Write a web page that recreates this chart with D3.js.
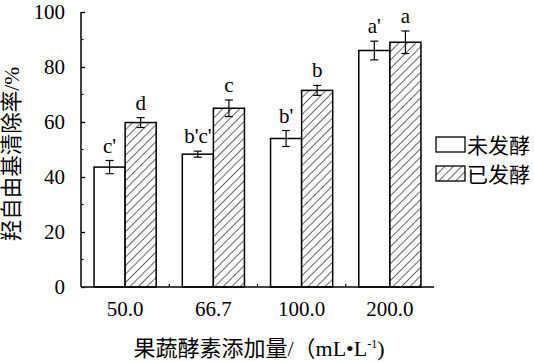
<!DOCTYPE html>
<html lang="zh">
<head>
<meta charset="UTF-8">
<title>羟自由基清除率</title>
<script src="https://d3js.org/d3.v7.min.js"></script>
<style>
    html, body { margin: 0; background: #fff; }
</style>
</head>
<body>
<div id="vis"></div>
<script>
    // data
    var categories = ["50.0", "66.7", "100.0", "200.0"];
    var series = ["未发酵", "已发酵"];
    var unfermented = [43.6, 48.3, 54.0, 86.0];
    var unfermentedErr = [2.4, 1.1, 2.9, 3.4];
    var fermented = [59.8, 65.0, 71.5, 89.0];
    var fermentedErr = [1.8, 3.0, 1.8, 4.1];
    var unfermentedLabels = ["c'", "b'c'", "b'", "a'"];
    var fermentedLabels = ["d", "c", "b", "a"];
    var yTicks = [0, 20, 40, 60, 80, 100];

    var W = 534, H = 362;
    var plotLeft = 81, plotRight = 434, plotTop = 12, plotBottom = 287;
    var SERIF = "'Liberation Serif', 'Noto Sans CJK SC'";

    var svg = d3.select("#vis").append("svg")
        .attr("width", W).attr("height", H);

    var defs = svg.append("defs");
    var pat = defs.append("pattern")
        .attr("id", "hatch")
        .attr("patternUnits", "userSpaceOnUse")
        .attr("width", 6).attr("height", 6)
        .attr("patternTransform", "rotate(45)");
    pat.append("rect").attr("width", 6).attr("height", 6).attr("fill", "#fff");
    pat.append("line")
        .attr("x1", 0).attr("y1", 0).attr("x2", 0).attr("y2", 6)
        .attr("stroke", "#000").attr("stroke-width", 1.2);

    var x = d3.scaleBand().domain(categories).range([plotLeft, plotRight]).paddingInner(0).paddingOuter(0);
    var xs = d3.scaleBand().domain(series).range([0, x.bandwidth()]).paddingInner(0).paddingOuter(0.42);
    var y = d3.scaleLinear().domain([0, 100]).range([plotBottom, plotTop]);

    var rows = categories.map(function(c, i) {
        return [
            {cat: c, s: series[0], v: unfermented[i], e: unfermentedErr[i], lab: unfermentedLabels[i]},
            {cat: c, s: series[1], v: fermented[i], e: fermentedErr[i], lab: fermentedLabels[i]}
        ];
    });
    var flat = [].concat.apply([], rows);

    function fillFor(s) { return s === series[0] ? "#fff" : "url(#hatch)"; }
    function cx(d) { return x(d.cat) + xs(d.s) + xs.bandwidth() / 2; }

    // bars
    svg.selectAll(".bar").data(flat).enter().append("rect")
        .attr("class", "bar")
        .attr("x", function(d) { return x(d.cat) + xs(d.s); })
        .attr("width", xs.bandwidth())
        .attr("y", function(d) { return y(d.v); })
        .attr("height", function(d) { return y(0) - y(d.v); })
        .attr("fill", function(d) { return fillFor(d.s); })
        .attr("stroke", "#000").attr("stroke-width", 1.5);

    // error bars
    var eb = svg.selectAll(".err").data(flat).enter().append("g")
        .attr("class", "err")
        .attr("stroke", "#000").attr("stroke-width", 1.2);
    eb.append("line")
        .attr("x1", cx).attr("x2", cx)
        .attr("y1", function(d) { return y(d.v + d.e); })
        .attr("y2", function(d) { return y(d.v - d.e); });
    [1, -1].forEach(function(sign) {
        eb.append("line")
            .attr("x1", function(d) { return cx(d) - 4; })
            .attr("x2", function(d) { return cx(d) + 4; })
            .attr("y1", function(d) { return y(d.v + sign * d.e); })
            .attr("y2", function(d) { return y(d.v + sign * d.e); });
    });

    // significance letters
    svg.selectAll(".lab").data(flat).enter().append("text")
        .attr("class", "lab")
        .attr("x", cx)
        .attr("y", function(d) { return y(d.v + d.e) - 8; })
        .attr("text-anchor", "middle")
        .style("font-family", SERIF)
        .style("font-size", "21px")
        .text(function(d) { return d.lab; });

    // y axis
    var yAxis = d3.axisLeft(y).tickValues(yTicks).tickSize(-4).tickPadding(16);
    var gy = svg.append("g").attr("transform", "translate(" + plotLeft + ",0)").call(yAxis);
    gy.select(".domain").attr("d", "M0," + y(0) + "V" + y(100)).attr("stroke-width", 1.5);
    gy.selectAll(".tick line").attr("stroke-width", 1.3);
    gy.selectAll(".tick text").style("font-family", SERIF).style("font-size", "21px").attr("fill", "#000");
    var yMinor = d3.range(10, 100, 20);
    gy.selectAll(".minor").data(yMinor).enter().append("line")
        .attr("class", "minor")
        .attr("x1", 0).attr("x2", 2.5)
        .attr("y1", function(d) { return y(d); }).attr("y2", function(d) { return y(d); })
        .attr("stroke", "#000").attr("stroke-width", 1.2);

    // x axis
    var xAxis = d3.axisBottom(x).tickSize(0).tickPadding(14);
    var gx = svg.append("g").attr("transform", "translate(0," + plotBottom + ")").call(xAxis);
    gx.select(".domain").attr("d", "M" + plotLeft + ",0H" + plotRight).attr("stroke-width", 1.5);
    gx.selectAll(".tick text").style("font-family", SERIF).style("font-size", "21px").attr("fill", "#000");
    gx.selectAll(".minor").data(categories.slice(1)).enter().append("line")
        .attr("class", "minor")
        .attr("x1", function(d) { return x(d); }).attr("x2", function(d) { return x(d); })
        .attr("y1", 0).attr("y2", -3)
        .attr("stroke", "#000").attr("stroke-width", 1.2);

    // axis titles
    svg.append("text")
        .attr("transform", "translate(19,154) rotate(-90)")
        .attr("text-anchor", "middle")
        .style("font-family", SERIF)
        .style("font-size", "21.5px")
        .text("羟自由基清除率/%");

    var xt = svg.append("text")
        .attr("x", 259).attr("y", 356)
        .attr("text-anchor", "middle")
        .style("font-family", SERIF)
        .style("font-size", "22px");
    xt.append("tspan").text("果蔬酵素添加量/（mL•L");
    xt.append("tspan").style("font-size", "12px").attr("dy", -8).text("-1");
    xt.append("tspan").attr("dy", 8).text(")");

    // legend
    var lg = svg.append("g").attr("transform", "translate(436,137)");
    var li = lg.selectAll(".li").data(series).enter().append("g")
        .attr("transform", function(d, i) { return "translate(0," + (i * 29) + ")"; });
    li.append("rect")
        .attr("width", 29).attr("height", 15)
        .attr("fill", function(d) { return fillFor(d); })
        .attr("stroke", "#000").attr("stroke-width", 1.3);
    li.append("text")
        .attr("x", 31).attr("y", 15.5)
        .style("font-family", SERIF)
        .style("font-size", "21px")
        .text(function(d) { return d; });
</script>
</body>
</html>
